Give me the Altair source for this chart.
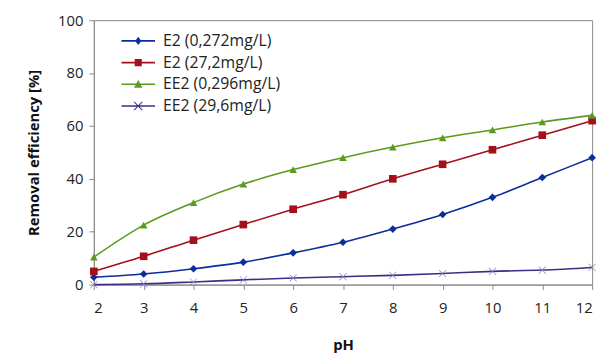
import altair as alt
import pandas as pd

ph = [2, 3, 4, 5, 6, 7, 8, 9, 10, 11, 12]
series_names = ["E2 (0,272mg/L)", "E2 (27,2mg/L)", "EE2 (0,296mg/L)", "EE2 (29,6mg/L)"]
e2_low = [2.8, 4.0, 6.0, 8.5, 12.0, 16.0, 21.0, 26.5, 33.0, 40.5, 48.0]
e2_high = [5.0, 10.7, 16.8, 22.7, 28.5, 34.0, 40.0, 45.5, 51.0, 56.5, 62.0]
ee2_low = [10.4, 22.5, 31.0, 38.0, 43.5, 48.0, 52.0, 55.5, 58.5, 61.5, 64.0]
ee2_high = [0.0, 0.3, 1.0, 1.8, 2.5, 3.0, 3.5, 4.2, 5.0, 5.5, 6.5]

line_colors = ["#0B2E9A", "#A3101C", "#5B9A1F", "#3E2D85"]
marker_colors = ["#0B2E9A", "#A3101C", "#5B9A1F", "#8A80C6"]

xpath = ("M-1,-0.88L-0.88,-1L0,-0.12L0.88,-1L1,-0.88L0.12,0L1,0.88L0.88,1"
         "L0,0.12L-0.88,1L-1,0.88L-0.12,0Z")
shapes = ["diamond", "square", "triangle-up", xpath]

# legend symbols: short line segment with the marker in its middle
seg = "M-3.4,-0.16H3.4V0.16H-3.4Z"
legend_shapes = [
    seg + "M0,-0.85L0.62,0L0,0.85L-0.62,0Z",
    seg + "M-0.72,-0.72H0.72V0.72H-0.72Z",
    seg + "M0,-0.85L0.85,0.68H-0.85Z",
    seg + "M-0.9,-0.76L-0.76,-0.9L0,-0.14L0.76,-0.9L0.9,-0.76L0.14,0L0.9,0.76"
          "L0.76,0.9L0,0.14L-0.76,0.9L-0.9,0.76L-0.14,0Z",
]

rows = []
for name, vals in zip(series_names, [e2_low, e2_high, ee2_low, ee2_high]):
    for x, v in zip(ph, vals):
        rows.append({"pH": x, "value": v, "series": name})
df = pd.DataFrame(rows)

font = "Open Sans"

base = alt.Chart(df).encode(
    x=alt.X("pH:Q", scale=alt.Scale(domain=[2, 12], nice=False),
            axis=alt.Axis(values=ph, title="pH", format="d")),
    y=alt.Y("value:Q", scale=alt.Scale(domain=[0, 100], nice=False),
            axis=alt.Axis(values=[0, 20, 40, 60, 80, 100], title="Removal efficiency [%]")),
)

lines = base.mark_line(interpolate="monotone", strokeWidth=1.6).encode(
    color=alt.Color("series:N", scale=alt.Scale(domain=series_names, range=line_colors), legend=None),
    detail="series:N",
)

points = base.mark_point(filled=True, size=60, opacity=1).encode(
    color=alt.Color("series:N", scale=alt.Scale(domain=series_names, range=marker_colors), legend=None),
    shape=alt.Shape("series:N", scale=alt.Scale(domain=series_names, range=shapes), legend=None),
)

leg = alt.Legend(
    title=None, orient="none", legendX=37, legendY=13, padding=0,
    labelFont=font, labelFontSize=16, labelColor="#222222", labelOffset=17,
    symbolSize=100, rowPadding=6, symbolOpacity=1, symbolStrokeWidth=0,
)

legend_layer = base.mark_point(filled=True, size=100, opacity=0, strokeWidth=0).encode(
    color=alt.Color("series:N", scale=alt.Scale(domain=series_names, range=line_colors), legend=leg),
    shape=alt.Shape("series:N", scale=alt.Scale(domain=series_names, range=legend_shapes), legend=leg),
)

chart = alt.layer(lines, points, legend_layer).resolve_scale(
    color="independent", shape="independent"
).resolve_legend(
    color="independent", shape="independent"
).properties(
    width=505, height=268,
    autosize=alt.AutoSizeParams(type="none"),
    padding={"left": 87, "top": 10, "right": 9, "bottom": 68},
).configure_view(
    stroke="#888888", strokeWidth=1
).configure_axis(
    grid=False, domainColor="#888888", tickColor="#888888", tickSize=5,
    labelFont=font, labelFontSize=15, labelColor="#222222",
    titleFont=font, titleFontSize=15, titleFontWeight="bold", titleColor="#111111",
).configure_axisX(
    labelPadding=11, titlePadding=23,
).configure_axisY(
    labelPadding=6, titlePadding=16,
)

chart.save("out.html", embed_options={"renderer": "svg", "actions": False})
